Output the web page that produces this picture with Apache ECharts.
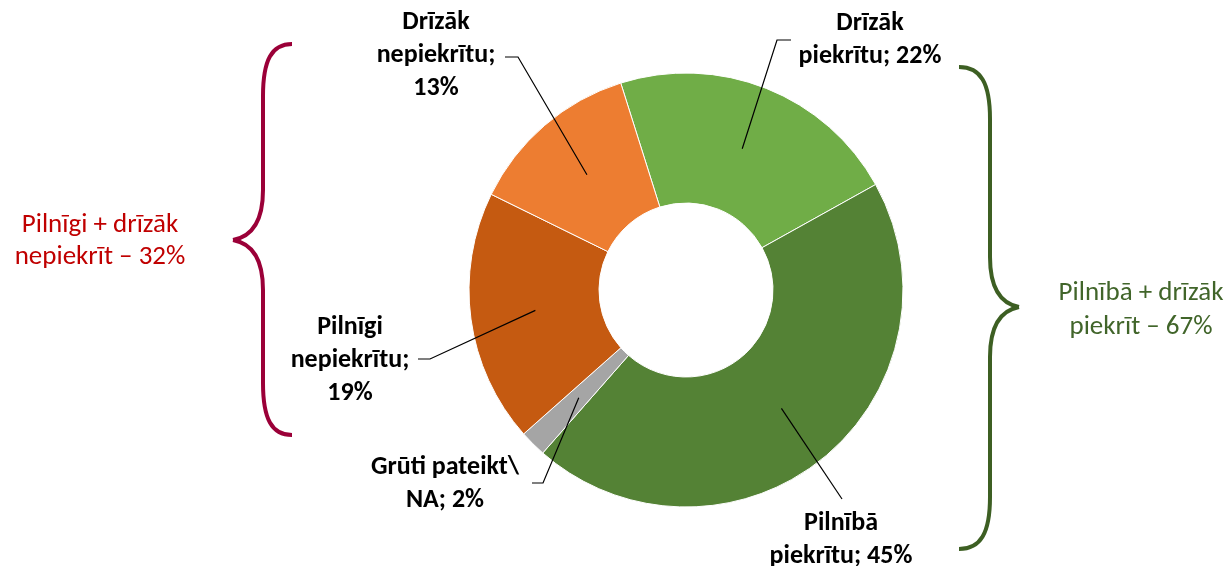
<!DOCTYPE html>
<html>
<head>
<meta charset="utf-8">
<script src="https://cdn.jsdelivr.net/npm/echarts@6/dist/echarts.min.js"></script>
<style>
  html, body { margin: 0; padding: 0; background: #fff; }
  #main { width: 1229px; height: 566px; }
</style>
</head>
<body>
<div id="main"></div>
<script>
// data
const categories = ['Drīzāk\npiekrītu', 'Pilnībā\npiekrītu', 'Grūti pateikt\\\nNA', 'Pilnīgi\nnepiekrītu', 'Drīzāk\nnepiekrītu']
const values = [22, 45, 2, 19, 13]
const valueSep = [' ', ' ', ' ', '\n', '\n']
const sliceColors = ['#70AD47', '#548235', '#A5A5A5', '#C55A11', '#ED7D31']
const groupLabels = ['Pilnīgi + drīzāk\nnepiekrīt – 32%', 'Pilnībā + drīzāk\npiekrīt – 67%']

// layout
const cx = 686, cy = 290
const rOuter = 217, rInner = 87, rLeader = 152
const startAngle = 107.5
const labelPos = [[870, 40], [841, 540], [445, 484], [350, 360], [436, 55]]
const leaderBend = [[777, 40], [842, 499], [543, 483], [430, 359], [518, 57]]
const leaderEnd = [[791, 40], [842, 499], [532, 483], [418, 359], [505, 57]]

const total = values.reduce((a, b) => a + b, 0)
let acc = 0
const leaderStart = values.map((v) => {
  const mid = acc + v / 2
  acc += v
  const ang = (startAngle - mid / total * 360) * Math.PI / 180
  return [cx + rLeader * Math.cos(ang), cy - rLeader * Math.sin(ang)]
})

// curly brace: x0 = ends, xm = spine, xt = tip; y0 top, yt tip, y1 bottom
function brace (x0, xm, xt, y0, yt, y1, color) {
  const d = xm - x0
  const t = xt - xm
  const style = { stroke: color, lineWidth: 4, fill: null }
  const c = (x1, y1, cpx1, cpy1, cpx2, cpy2, x2, y2) => ({
    type: 'bezierCurve', silent: true, style: style,
    shape: { x1, y1, cpx1, cpy1, cpx2, cpy2, x2, y2 }
  })
  const l = (x1, y1, x2, y2) => ({ type: 'line', silent: true, style: style, shape: { x1, y1, x2, y2 } })
  const a = 52, b = 50
  return [
    c(x0, y0, x0 + d * 0.7, y0, xm, y0 + 16, xm, y0 + a),
    l(xm, y0 + a, xm, yt - b),
    c(xm, yt - b, xm, yt - 15, xm + t * 0.45, yt - 3, xt, yt),
    c(xt, yt, xm + t * 0.45, yt + 3, xm, yt + 15, xm, yt + b),
    l(xm, yt + b, xm, y1 - a),
    c(xm, y1 - a, xm, y1 - 16, x0 + d * 0.7, y1, x0, y1)
  ]
}

const chart = echarts.init(document.getElementById('main'))
const labelFont = 'Carlito, "Liberation Sans", Arial, sans-serif'

const pieData = categories.map((name, i) => ({
  name: name,
  value: values[i],
  itemStyle: { color: sliceColors[i] }
}))

const option = {
  backgroundColor: '#fff',
  animation: false,
  series: [{
    // the donut itself
    type: 'pie',
    z: 2,
    silent: true,
    center: [cx, cy],
    radius: [rInner, rOuter],
    startAngle: startAngle,
    clockwise: true,
    data: pieData,
    itemStyle: { borderColor: '#fff', borderWidth: 1 },
    label: { show: false },
    labelLine: { show: false }
  }, {
    // invisible copy on top, carries labels and leader lines
    type: 'pie',
    z: 5,
    silent: true,
    center: [cx, cy],
    radius: [0, rLeader],
    startAngle: startAngle,
    clockwise: true,
    avoidLabelOverlap: false,
    data: categories.map((name, i) => ({ name: name, value: values[i] })),
    itemStyle: { color: 'rgba(0,0,0,0)', borderWidth: 0 },
    label: {
      show: true,
      position: 'outside',
      color: '#000',
      fontWeight: 'bold',
      fontSize: 26,
      lineHeight: 33,
      fontFamily: labelFont,
      align: 'center',
      formatter: (p) => p.name + ';' + valueSep[p.dataIndex] + p.value + '%'
    },
    labelLine: {
      show: true,
      lineStyle: { color: '#000', width: 1.2 }
    },
    labelLayout: (params) => {
      const i = params.dataIndex
      return {
        x: labelPos[i][0],
        y: labelPos[i][1],
        align: 'center',
        verticalAlign: 'middle',
        labelLinePoints: [leaderStart[i], leaderBend[i], leaderEnd[i]]
      }
    }
  }],
  graphic: [
    ...brace(292, 263, 233, 44, 240, 435, '#9B0038'),
    ...brace(959, 990, 1019, 67, 307, 549, '#3D5F23'),
    {
      type: 'text',
      x: 100,
      y: 241,
      style: {
        text: groupLabels[0],
        fill: '#C00000',
        font: '27px ' + labelFont,
        textAlign: 'center',
        textVerticalAlign: 'middle',
        lineHeight: 32
      }
    },
    {
      type: 'text',
      x: 1141,
      y: 310,
      style: {
        text: groupLabels[1],
        fill: '#41652A',
        font: '27px ' + labelFont,
        textAlign: 'center',
        textVerticalAlign: 'middle',
        lineHeight: 34
      }
    }
  ]
}

chart.setOption(option)
</script>
</body>
</html>
